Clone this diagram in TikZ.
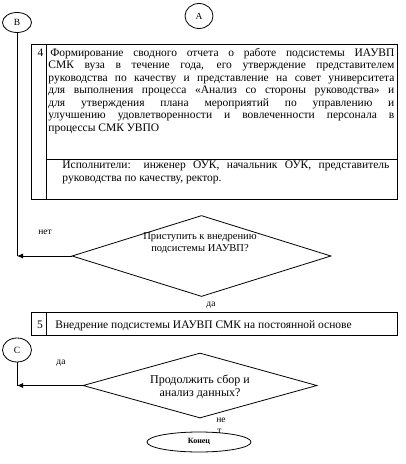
\documentclass[tikz,border=0pt]{standalone}
\usepackage{fontspec}
\setmainfont{Liberation Serif}
\usetikzlibrary{shapes.geometric,arrows.meta}
\begin{document}
\begin{tikzpicture}[x=1pt,y=-1pt,line width=0.8pt,
  conn/.style={ellipse,draw,inner sep=0pt,font=\fontsize{9.5}{10}\selectfont},
  boxframe/.style={draw,rectangle,inner sep=0pt,anchor=north west},
  decision/.style={diamond,draw,inner sep=0pt},
  lbl/.style={inner sep=0pt,font=\fontsize{9.5}{10}\selectfont},
  arr/.style={-{Latex[length=6pt,width=5pt]}},
  body/.style={inner sep=0pt,anchor=base west}]
\useasboundingbox[fill=white] (0,0) rectangle (406,464);

% connectors
\node[conn,minimum width=29pt,minimum height=20pt] (B) at (17,22.5) {B};
\node[conn,minimum width=28pt,minimum height=25pt] (A) at (199,16) {A};
\node[conn,minimum width=29pt,minimum height=24pt] (C) at (17,350) {C};

% box 4
\node[boxframe,minimum width=366pt,minimum height=155pt] (b4) at (31,44) {};
\draw (46,44) -- (46,199);
\draw (46,159) -- (397,159);
\node[inner sep=0pt,anchor=base,font=\fontsize{11.5}{12.5}\selectfont] (n4) at (40.5,56) {4};
\node[body] (t4) at (48,56) {\parbox[t]{346pt}{\fontsize{11.5}{12.5}\selectfont
\makebox[346pt][s]{\hspace*{2pt}Формирование сводного отчета о работе подсистемы ИАУВП}\par
\makebox[346pt][s]{СМК вуза в течение года, его утверждение представителем}\par
\makebox[346pt][s]{руководства по качеству и представление на совет университета}\par
\makebox[346pt][s]{для выполнения процесса «Анализ со стороны руководства» и}\par
\makebox[346pt][s]{для утверждения плана мероприятий по управлению и}\par
\makebox[346pt][s]{улучшению удовлетворенности и вовлеченности персонала в}\par
процессы СМК УВПО}};
\node[body] (t4b) at (62,168.5) {\parbox[t]{327pt}{\fontsize{11.5}{12.5}\selectfont
\makebox[327pt][s]{Исполнители: инженер ОУК, начальник ОУК, представитель}\par
руководства по качеству, ректор.}};

% decision 1
\node[decision,minimum width=259pt,minimum height=81pt] (d1) at (201.5,256) {};
\node[inner sep=0pt,align=center,font=\fontsize{10.5}{12}\selectfont] (q1) at (200,243) {Приступить к внедрению\\подсистемы ИАУВП?};
\coordinate (j1) at (17,256);
\draw (B) -- (j1);
\draw[arr] (d1.west) -- (j1);
\node[lbl] (no1) at (45,232) {нет};
\node[lbl] (yes1) at (211,305) {да};

% box 5
\node[boxframe,minimum width=366pt,minimum height=23pt] (b5) at (31,312) {};
\draw (46,312) -- (46,335);
\node[inner sep=0pt,anchor=base,font=\fontsize{11.5}{12.5}\selectfont] (n5) at (40,328) {5};
\node[body,font=\fontsize{11.5}{12.5}\selectfont] (t5) at (55,328) {Внедрение подсистемы ИАУВП СМК на постоянной основе};

% decision 2
\node[decision,minimum width=234pt,minimum height=65pt] (d2) at (200,385.5) {};
\node[inner sep=0pt,align=center,font=\fontsize{12}{13}\selectfont] (q2) at (200,387) {Продолжить сбор и\\анализ данных?};
\coordinate (j2) at (17,385.5);
\draw (C) -- (j2);
\draw[arr] (d2.west) -- (j2);
\node[lbl] (yes2) at (61,363) {да};
\node[lbl] (no2a) at (221,420) {не};
\node[lbl] (no2b) at (219.5,431) {т};

% end
\node[ellipse,draw,inner sep=0pt,minimum width=104pt,minimum height=20pt,font=\bfseries\fontsize{8}{9}\selectfont] (end) at (199,442) {Конец};
\end{tikzpicture}
\end{document}
